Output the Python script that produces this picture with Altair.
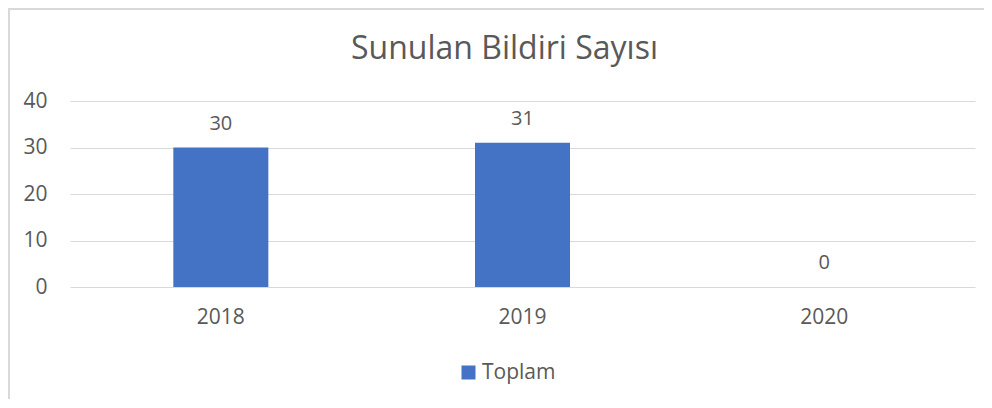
import altair as alt
import pandas as pd

years = ["2018", "2019", "2020"]
values = [30, 31, 0]
series = ["Toplam", "Toplam", "Toplam"]

df = pd.DataFrame({"year": years, "value": values, "series": series})

TEXT = "#595959"
GRID = "#d9d9d9"
FONT = "Open Sans"
FS = 21

base = alt.Chart(df)

bars = base.mark_bar(color="#4472C4").encode(
    x=alt.X("year:N", title=None, sort=years,
            scale=alt.Scale(paddingInner=0.685, paddingOuter=0.3425),
            axis=alt.Axis(labelAngle=0, ticks=False, domain=False, grid=False,
                          labelPadding=19, labelFontSize=FS, labelColor=TEXT, labelFont=FONT)),
    y=alt.Y("value:Q", title=None,
            scale=alt.Scale(domain=[0, 40]),
            axis=alt.Axis(values=[0, 10, 20, 30, 40], ticks=False, domain=False,
                          gridColor=GRID, gridWidth=1, labelPadding=23,
                          labelFontSize=FS, labelColor=TEXT, labelFont=FONT)),
    color=alt.Color("series:N", title=None,
                    scale=alt.Scale(domain=["Toplam"], range=["#4472C4"]),
                    legend=alt.Legend(orient="none", legendX=388, legendY=261,
                                      symbolType="square", symbolSize=196,
                                      symbolStrokeWidth=0, labelFontSize=FS,
                                      labelOffset=3,
                                      labelColor=TEXT, labelFont=FONT)),
)

labels = base.mark_text(baseline="alphabetic", dy=-18, fontSize=20, color=TEXT, font=FONT).encode(
    x=alt.X("year:N", sort=years),
    y="value:Q",
    text="value:Q",
)

border_df = pd.DataFrame({"k": [1]})
border = alt.Chart(border_df).mark_rect(fill=None, stroke=GRID, strokeWidth=2).encode(
    x=alt.value(-61), x2=alt.value(940),
    y=alt.value(-92), y2=alt.value(320),
)

chart = alt.layer(border, bars, labels).properties(
    width=905, height=186,
    title=alt.TitleParams("Sunulan Bildiri Sayısı", fontSize=32, font=FONT,
                          fontWeight="normal", color=TEXT, offset=-58, dx=-18),
    autosize=alt.AutoSizeParams(type="none"),
    padding={"left": 62, "top": 93, "right": 9, "bottom": 112},
).configure_view(stroke=None)

chart.save("out.html", embed_options={"renderer": "svg", "actions": False})
